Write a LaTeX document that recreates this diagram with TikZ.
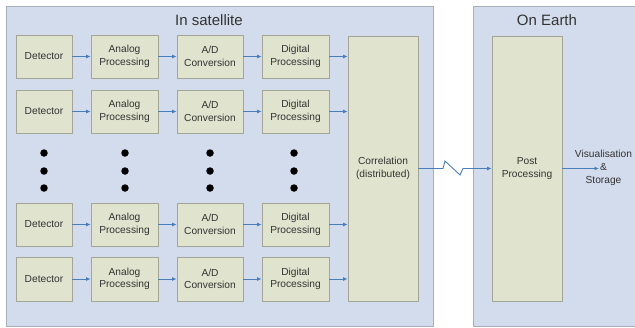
\documentclass[tikz,border=0pt]{standalone}
\usepackage{fontspec}
\setmainfont{Liberation Sans}
\usetikzlibrary{arrows.meta}
\definecolor{panel}{HTML}{D3DCEC}
\definecolor{panelline}{HTML}{A9AFB9}
\definecolor{boxfill}{HTML}{E0E3CD}
\definecolor{boxline}{HTML}{A3A596}
\definecolor{arr}{HTML}{4A7EBB}
\definecolor{txt}{HTML}{333333}
\tikzset{
  panelbox/.style={draw=panelline, fill=panel, line width=0.8pt},
  procbox/.style={draw=boxline, fill=boxfill, line width=0.8pt, text=txt,
    font=\fontsize{10.2}{12.5}\selectfont, align=center, inner sep=0pt},
  flow/.style={draw=arr, line width=0.9pt, -{Latex[length=4.5pt,width=4pt]}},
  dotmark/.style={circle, fill=black, minimum size=7.5pt, inner sep=0pt},
  titletext/.style={font=\fontsize{15}{18}\selectfont, text=txt},
}
\begin{document}
\begin{tikzpicture}[x=1pt,y=-1pt]
\useasboundingbox (0,0) rectangle (635,327);
\fill[white] (0,0) rectangle (635,327);
% panels
\draw[panelbox] (6,6) rectangle (433,326);
\draw[panelbox] (473,6) rectangle (640,326);
\node[titletext] (tsat) at (209,20) {In satellite};
\node[titletext] (tearth) at (547,20) {On Earth};
% rows
\foreach \r/\ya/\yb in {1/35/78, 2/90/133, 3/203/246, 4/257/301}{
  \pgfmathsetmacro{\hh}{\yb-\ya}
  \pgfmathsetmacro{\yc}{(\ya+\yb)/2}
  \node[procbox, minimum width=56pt, minimum height=\hh pt] (det\r) at (44,\yc) {Detector};
  \node[procbox, minimum width=67pt, minimum height=\hh pt] (ana\r) at (124.5,\yc) {Analog\\Processing};
  \node[procbox, minimum width=66pt, minimum height=\hh pt] (adc\r) at (210,\yc) {A/D\\Conversion};
  \node[procbox, minimum width=67pt, minimum height=\hh pt] (dig\r) at (295.5,\yc) {Digital\\Processing};
}
\node[procbox, minimum width=70pt, minimum height=265pt] (corr) at (383,168.5) {Correlation\\(distributed)};
\node[procbox, minimum width=70pt, minimum height=265pt] (post) at (527,168.5) {Post\\Processing};
\foreach \r in {1,2,3,4}{
  \draw[flow] (det\r) -- (ana\r);
  \draw[flow] (ana\r) -- (adc\r);
  \draw[flow] (adc\r) -- (dig\r);
  \draw[flow] (dig\r.east) -- (dig\r.east -| corr.west);
}
% dots
\foreach \x/\n in {44/a,125/b,210/c,294/d}{
  \foreach \y/\m in {153/1,171/2,188/3}{
    \node[dotmark] (dot\n\m) at (\x,\y) {};
  }
}
% link
\coordinate (z1) at (443,168.5);
\coordinate (z2) at (445,161);
\coordinate (z3) at (460,175);
\coordinate (z4) at (463,168.5);
\draw[flow] (corr.east) -- (z1) -- (z2) -- (z3) -- (z4) -- (post.west);
% output
\node[text=txt, font=\fontsize{10.2}{12.8}\selectfont, align=center, inner sep=0pt] (vis) at (603.5,168) {Visualisation\\\&\\Storage};
\coordinate (outend) at (599,168.5);
\draw[flow] (post.east |- outend) -- (outend);
\end{tikzpicture}
\end{document}
